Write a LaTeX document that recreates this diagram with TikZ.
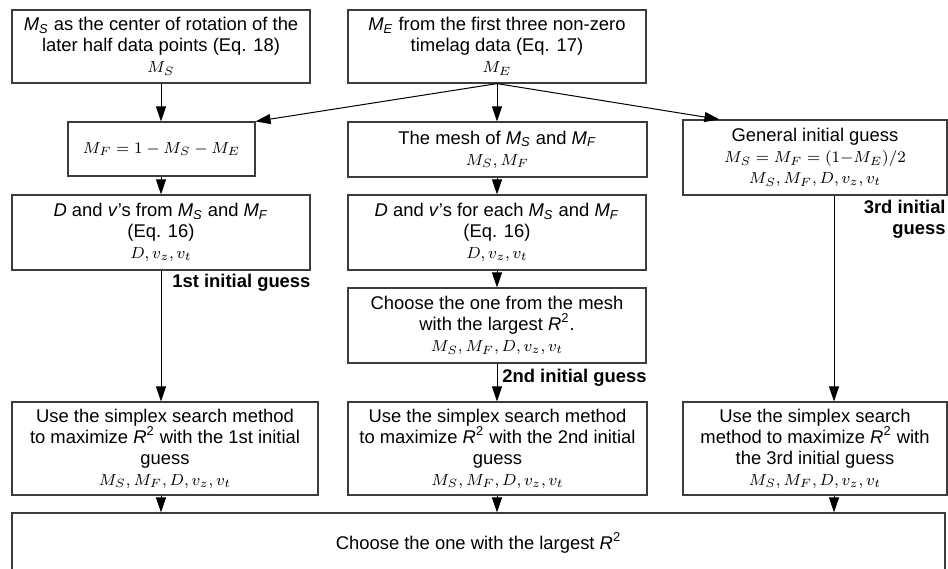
\documentclass[tikz,border=0pt]{standalone}
\usepackage{amsmath}
\usepackage{fontspec}
\setmainfont{Liberation Sans}
\usepackage{xcolor}
\usetikzlibrary{arrows.meta,calc}
\definecolor{flowline}{RGB}{60,60,60}
\newcommand{\tM}[1]{\textit{M}\textsubscript{\textit{#1}}}
\newcommand{\tR}{\textit{R}\textsuperscript{2}}
\newcommand{\mvars}[1]{{\fontsize{8.3}{10.5}\selectfont$#1$}}

\begin{document}
\begin{tikzpicture}[x=0.5pt, y=-0.5pt,
    box/.style={rectangle, draw=flowline, line width=0.6pt, inner sep=1pt,
                align=center, font=\fontsize{9.2}{10.5}\selectfont},
    arr/.style={-{Triangle[length=7.5pt,width=5pt]}, line width=0.5pt},
    guess/.style={font=\fontsize{9.2}{10.5}\selectfont\bfseries, inner sep=0pt},
  ]
  \useasboundingbox (0,0) rectangle (948,568);
  \clip (0,0) rectangle (948,568);

  % Ms from the later half
  \node[box, minimum width=149pt, minimum height=36.5pt] (Ms) at (161,46.5)
    {\tM{S} as the center of rotation of the\\later half data points (Eq. 18)\\\mvars{M_S}};

  % Me from the timelag data
  \node[box, minimum width=149pt, minimum height=36.5pt] (Me) at (497,46.5)
    {\tM{E} from the first three non-zero\\timelag data (Eq. 17)\\\mvars{M_E}};

  % Mf
  \node[box, minimum width=93.5pt, minimum height=27pt] (Mf) at (161.5,149)
    {\mvars{M_F = 1 - M_S - M_E}};

  % Mesh
  \node[box, minimum width=149.5pt, minimum height=27.5pt] (mesh) at (497.5,149.5)
    {The mesh of \tM{S} and \tM{F}\\\mvars{M_S, M_F}};

  % General guess
  \node[box, minimum width=132pt, minimum height=37.5pt] (gen) at (815,157.5)
    {General initial guess\\\mvars{M_S = M_F = (1{-}M_E)/2}\\\mvars{M_S, M_F, D, v_z, v_t}};

  % D and v's
  \node[box, minimum width=149pt, minimum height=37.5pt] (dvone) at (161,232.5)
    {\textit{D} and \textit{v}'s from \tM{S} and \tM{F}\\(Eq. 16)\\\mvars{D, v_z, v_t}};
  \node[box, minimum width=149pt, minimum height=37.5pt] (dvmesh) at (497,232.5)
    {\textit{D} and \textit{v}'s for each \tM{S} and \tM{F}\\(Eq. 16)\\\mvars{D, v_z, v_t}};

  % Best of mesh
  \node[box, minimum width=149pt, minimum height=37.5pt] (pick) at (497,325.5)
    {Choose the one from the mesh\\with the largest \tR.\\\mvars{M_S, M_F, D, v_z, v_t}};

  % Simplex search
  \node[box, minimum width=153pt, minimum height=46.5pt] (simpA) at (165,448.5)
    {Use the simplex search method\\to maximize \tR{} with the 1st initial\\guess\\\mvars{M_S, M_F, D, v_z, v_t}};
  \node[box, minimum width=149.5pt, minimum height=46.5pt] (simpB) at (497.5,448.5)
    {Use the simplex search method\\to maximize \tR{} with the 2nd initial\\guess\\\mvars{M_S, M_F, D, v_z, v_t}};
  \node[box, minimum width=132pt, minimum height=46.5pt] (simpC) at (815,448.5)
    {Use the simplex search\\method to maximize \tR{} with\\the 3rd initial guess\\\mvars{M_S, M_F, D, v_z, v_t}};

  % Final choice
  \node[box, minimum width=466.5pt, minimum height=30pt] (best) at (478.5,543)
    {Choose the one with the largest \tR};

  % Arrows
  \draw[arr] (Ms.south) -- (Ms.south |- Mf.north);
  \draw[arr] (Me.south) -- (Mf.north east);
  \draw[arr] (Me.south) -- (Me.south |- mesh.north);
  \draw[arr] (Me.south) -- ($(gen.north west)+(37,0)$);
  \draw[arr] (Ms.south |- Mf.south) -- (Ms.south |- dvone.north);
  \draw[arr] (Me.south |- mesh.south) -- (Me.south |- dvmesh.north);
  \draw[arr] (Me.south |- dvmesh.south) -- (Me.south |- pick.north);
  \draw[arr] (dvone.south) -- (dvone.south |- simpA.north);
  \draw[arr] (pick.south) -- (pick.south |- simpB.north);
  \draw[arr] ([xshift=9.5pt]gen.south) -- ([xshift=9.5pt]gen.south |- simpC.north);
  \draw[arr] (dvone.south |- simpA.south) -- (dvone.south |- best.north);
  \draw[arr] (pick.south |- simpB.south) -- (pick.south |- best.north);
  \draw[arr] ([xshift=9.5pt]gen.south |- simpC.south) -- ([xshift=9.5pt]gen.south |- best.north);

  % Guess labels
  \node[guess, anchor=west] (gone) at (172,283) {1st initial guess};
  \node[guess, anchor=west] (gtwo) at (502,378) {2nd initial guess};
  \node[guess, anchor=east, align=right] (gthree) at (946,219.5) {3rd initial\\guess};
\end{tikzpicture}
\end{document}
